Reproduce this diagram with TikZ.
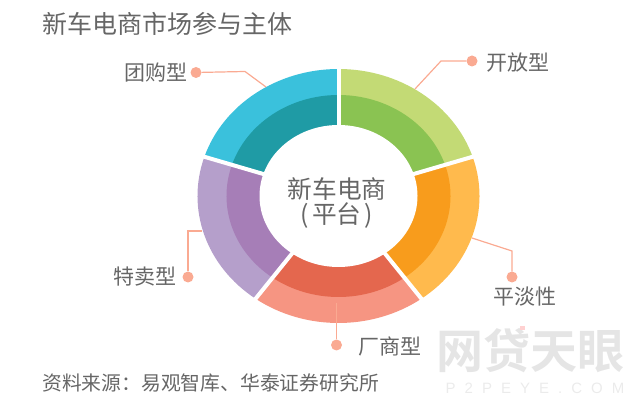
\documentclass[tikz,border=0pt]{standalone}
\usepackage{fontspec}
\usetikzlibrary{shapes.geometric}
\setmainfont{Noto Sans CJK SC}
\newfontfamily\wmfont{Noto Sans CJK SC Bold}
\newfontfamily\wmlat[LetterSpace=60]{Liberation Sans}
\definecolor{txt}{HTML}{666666}
\definecolor{lead}{HTML}{FAAA92}
\definecolor{gl}{HTML}{C3DA75}\definecolor{gd}{HTML}{8AC352}
\definecolor{ol}{HTML}{FFBA4D}\definecolor{od}{HTML}{F89C1C}
\definecolor{sl}{HTML}{F69582}\definecolor{sd}{HTML}{E4674E}
\definecolor{pl}{HTML}{B59FCB}\definecolor{pd}{HTML}{A67EB7}
\definecolor{bl}{HTML}{3AC1DC}\definecolor{bd}{HTML}{1F9BA5}
\newcommand{\piesect}[5]{\fill[#5] (0,0) -- ({#3*cos(#1)},{#4*sin(#1)}) arc[start angle=#1,end angle=#2,x radius=#3pt,y radius=#4pt] -- cycle;}
\newcommand{\lab}[1]{\fontsize{#1pt}{#1pt}\selectfont}
\tikzset{
  leadline/.style={draw=lead,line width=1.2pt},
  leaddot/.style={circle,fill=lead,inner sep=0pt,minimum width=11pt},
  labeltext/.style={text=txt,inner sep=0pt,font=\lab{21}},
  sepline/.style={draw=white,line width=4pt}
}
\begin{document}
\begin{tikzpicture}[x=1pt,y=1pt]
\useasboundingbox (0,0) rectangle (639,406);
% watermark
\node[inner sep=0pt,text=black!10] (wm) at (530,55) {\wmfont\lab{47}网贷天眼};
\fill[red!18] (520,76) rectangle (525,80);
\node[inner sep=0pt,text=black!8] (wm2) at (535,18) {\wmlat\lab{15}P2PEYE.COM};
% title and source
\node[anchor=west,inner sep=0pt,text=txt] (title) at (42,382) {\lab{25}新车电商市场参与主体};
\node[anchor=west,inner sep=0pt,text=txt] (src) at (42,23) {\lab{19.8}资料来源：易观智库、华泰证券研究所};
% leaders
\coordinate (e1) at (415,317);
\coordinate (k1) at (441,345);
\node[leaddot] (d1) at (472,345) {};
\coordinate (e2) at (472,168);
\coordinate (k2) at (512,155);
\node[leaddot] (d2) at (512,129) {};
\coordinate (e3) at (336.5,103);
\node[leaddot] (d3) at (336.5,61) {};
\coordinate (e4) at (202,175);
\coordinate (k4) at (188,175);
\node[leaddot] (d4) at (188,129) {};
\coordinate (e5) at (266,319);
\coordinate (k5) at (245,334.5);
\node[leaddot] (d5) at (196,333.5) {};
% ring
\begin{scope}[shift={(338.5,210)}]
\piesect{18}{90}{141}{127}{gl}
\piesect{-54}{18}{141}{127}{ol}
\piesect{-126}{-54}{141}{127}{sl}
\piesect{162}{234}{141}{127}{pl}
\piesect{90}{162}{141}{127}{bl}
\piesect{18}{90}{112}{101}{gd}
\piesect{-54}{18}{112}{101}{od}
\piesect{-126}{-54}{112}{101}{sd}
\piesect{162}{234}{112}{101}{pd}
\piesect{90}{162}{112}{101}{bd}
\foreach \a in {90,18,-54,-126,162}
  \draw[sepline] (0,0) -- ({150*cos(\a)},{135*sin(\a)});
\end{scope}
\node[ellipse,fill=white,inner sep=0pt,minimum width=158pt,minimum height=142pt] at (338.5,210) {};
\node[inner sep=0pt,text=txt,align=center] (hub) at (337,203) {\lab{24.7}新车电商\\[1.5pt]\lab{24.7}(\hspace{3pt}平台\hspace{3pt})};
\draw[leadline] (e1) -- (k1) -- (d1);
\draw[leadline] (e2) -- (k2) -- (d2);
\draw[leadline] (e3) -- (d3);
\draw[leadline] (e4) -- (k4) -- (d4);
\draw[leadline] (e5) -- (k5) -- (d5);
% labels
\node[labeltext,anchor=west] (l1) at (486,343.5) {开放型};
\node[labeltext] (l2) at (525,109) {平淡性};
\node[labeltext,anchor=west] (l3) at (358,60) {厂商型};
\node[labeltext,anchor=west] (l4) at (113,129) {特卖型};
\node[labeltext,anchor=west] (l5) at (124,333) {团购型};
\end{tikzpicture}
\end{document}
